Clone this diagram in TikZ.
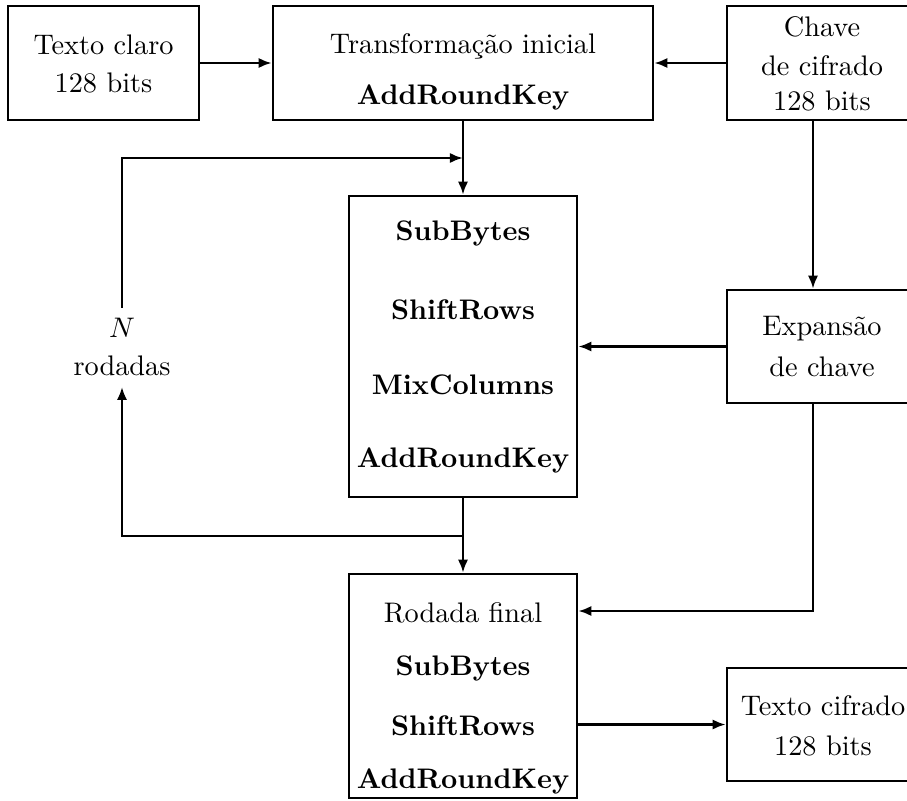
\documentclass[tikz,border=0pt]{standalone}
\usepackage{fontspec}
\usetikzlibrary{arrows.meta,calc}
\newcommand\pxu{0.3534pt}
\tikzset{
  box/.style={draw, line width=0.9pt, rectangle, inner sep=0pt},
  txt/.style={anchor=base, inner sep=0pt},
  arr/.style={line width=0.9pt, -{Latex[length=4.6pt,width=3.6pt]}},
  ln/.style={line width=0.9pt}
}
\begin{document}
\begin{tikzpicture}[x=\pxu,y=-\pxu]
\useasboundingbox (0,0) rectangle (907,800);
% boxes
\node[box, minimum width=191*\pxu, minimum height=114*\pxu] (claro) at (103.5,63) {};
\node[box, minimum width=380*\pxu, minimum height=114*\pxu] (trans) at (463,63) {};
\node[box, minimum width=190*\pxu, minimum height=114*\pxu] (chave) at (822,63) {};
\node[box, minimum width=228*\pxu, minimum height=301*\pxu] (main) at (463,346.5) {};
\node[box, minimum width=190*\pxu, minimum height=113*\pxu] (expan) at (822,346.5) {};
\node[box, minimum width=228*\pxu, minimum height=224*\pxu] (final) at (463,686) {};
\node[box, minimum width=192*\pxu, minimum height=113*\pxu] (cifr) at (823,724.5) {};
% texts
\node[txt] (t1) at (103.5,54) {Texto claro};
\node[txt] (t2) at (103.5,92) {128 bits};
\node[txt] (t3) at (463,53) {Transformação inicial};
\node[txt] (t4) at (463,104) {\textbf{AddRoundKey}};
\node[txt] (t5) at (822,36) {Chave};
\node[txt] (t6) at (822,75) {de cifrado};
\node[txt] (t7) at (822,110) {128 bits};
\node[txt] (t8) at (822,335) {Expansão};
\node[txt] (t9) at (822,376) {de chave};
\node[txt] (t10) at (823,715) {Texto cifrado};
\node[txt] (t11) at (823,755) {128 bits};
\node[txt] (m1) at (463,240) {\textbf{SubBytes}};
\node[txt] (m2) at (463,319) {\textbf{ShiftRows}};
\node[txt] (m3) at (463,394) {\textbf{MixColumns}};
\node[txt] (m4) at (463,467) {\textbf{AddRoundKey}};
\node[txt] (f1) at (463,622) {Rodada final};
\node[txt] (f2) at (463,675) {\textbf{SubBytes}};
\node[txt] (f3) at (463,735) {\textbf{ShiftRows}};
\node[txt] (f4) at (463,788) {\textbf{AddRoundKey}};
\node[anchor=base, inner sep=9.5*\pxu] (nN) at (122,337) {$N$};
\node[anchor=base, inner sep=11*\pxu] (nR) at (122,375) {rodadas};
% helper coordinates
\coordinate (jtop) at (463,158);
\coordinate (jbot) at (463,536);
\coordinate (kx) at (813,0);
\coordinate (y611) at (0,611);
% connectors
\draw[arr] (claro.east) -- (trans.west);
\draw[arr] (chave.west) -- (trans.east);
\draw[arr] (trans.south) -- (main.north);
\draw[arr] (nN.north) |- (jtop);
\draw[arr] (main.south) -- (final.north);
\draw[arr] (jbot) -| (nR.south);
\draw[arr] (expan.west) -- (main.east);
\draw[arr] (chave.south -| kx) -- (expan.north -| kx);
\draw[arr] (expan.south -| kx) |- (final.east |- y611);
\draw[arr] (final.east |- cifr.west) -- (cifr.west);
\end{tikzpicture}
\end{document}
